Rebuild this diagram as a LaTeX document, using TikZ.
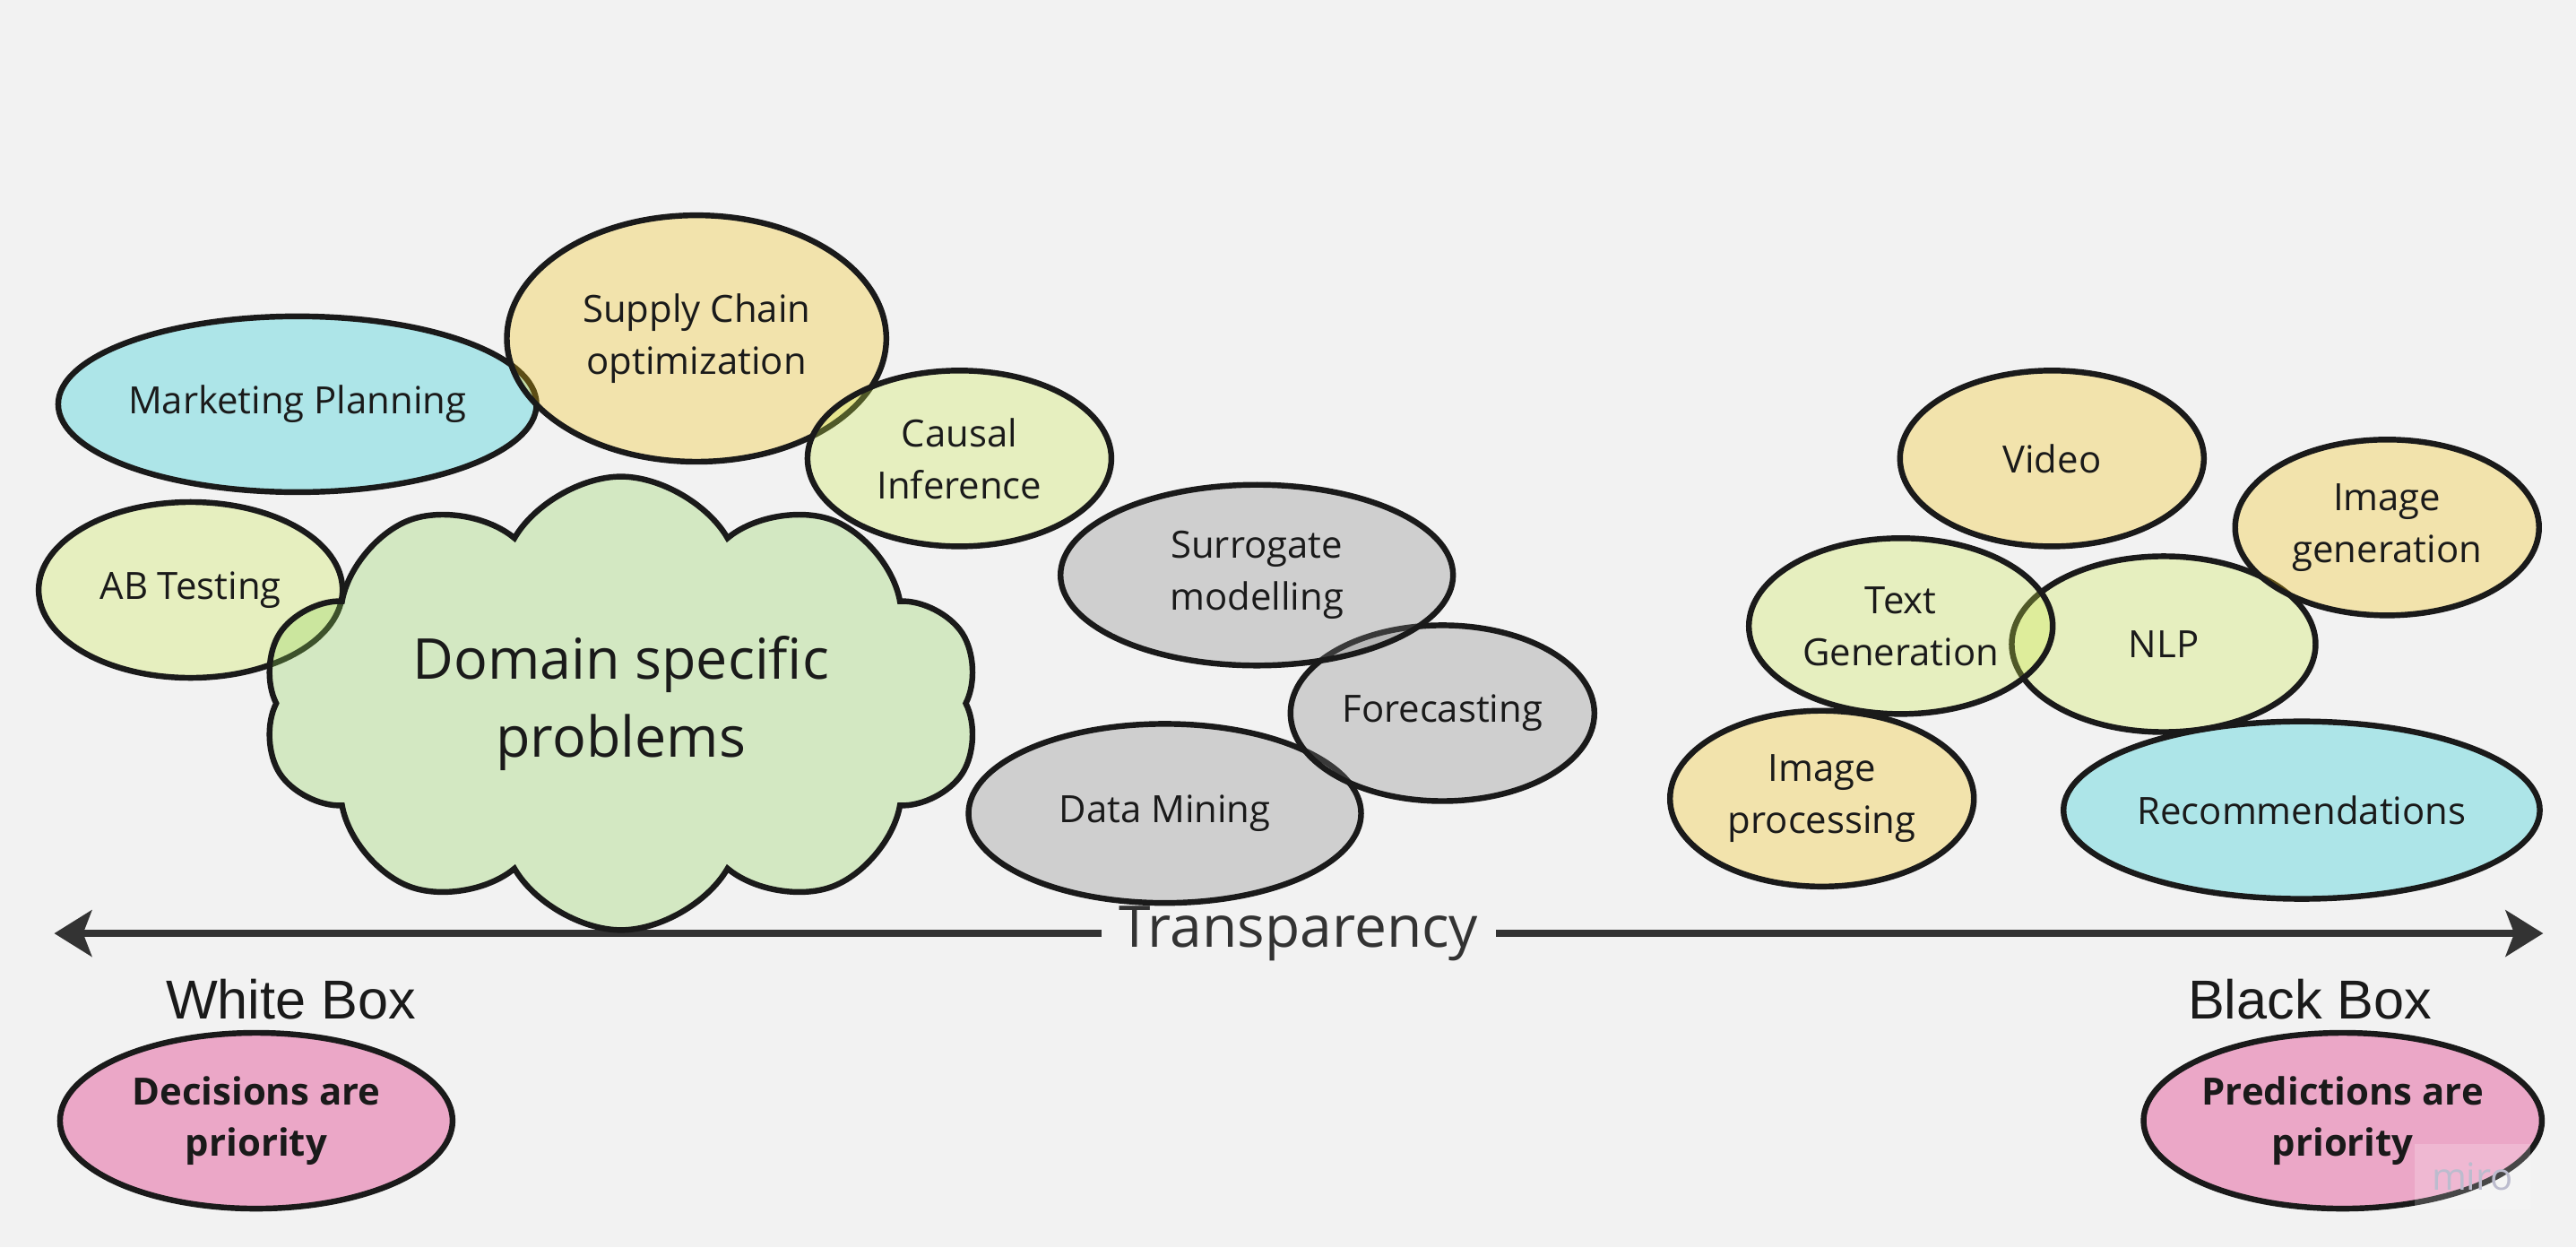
\documentclass[tikz,border=0pt]{standalone}
\usepackage{fontspec}
\setmainfont{Open Sans}
\newfontfamily\boxfont{Liberation Sans}
\usetikzlibrary{shapes.geometric}
\usetikzlibrary{shapes.symbols}
\usetikzlibrary{arrows.meta}

\definecolor{bg}{RGB}{242,242,242}
\definecolor{edge}{RGB}{26,26,26}
\definecolor{axis}{RGB}{51,51,51}
\definecolor{cyanf}{RGB}{15,202,212}
\definecolor{tanf}{RGB}{245,195,12}
\definecolor{limef}{RGB}{205,235,75}
\definecolor{cloudf}{RGB}{142,212,85}
\definecolor{greyf}{RGB}{129,129,129}
\definecolor{pinkf}{RGB}{235,167,199}
\definecolor{mirof}{RGB}{188,188,206}

\begin{document}
\begin{tikzpicture}[
    x=0.02cm, y=-0.02cm,
    every node/.style={
      text=edge,
      align=center,
      font=\fontsize{13}{18}\selectfont
    },
    blob/.style={
      ellipse,
      draw=edge,
      line width=2pt,
      fill opacity=0.3,
      text opacity=1,
      inner sep=0pt
    },
    small/.style={blob, minimum width=3.7cm, minimum height=2.14cm},
    wide/.style={blob, minimum width=4.78cm, minimum height=2.18cm},
    prio/.style={
      ellipse,
      draw=edge,
      line width=2pt,
      fill=pinkf,
      inner sep=0pt,
      minimum width=4.78cm,
      minimum height=2.14cm,
      font=\bfseries\fontsize{13}{17.5}\selectfont
    },
    boxlabel/.style={font=\boxfont\fontsize{19}{23}\selectfont}
    ]
    \useasboundingbox (0,0) rectangle (1568,759);
    \fill[bg] (0,0) rectangle (1568,759);

    \coordinate (la) at (33,568);
    \coordinate (ra) at (1548,568);
    \draw[line width=2.3pt, draw=axis,
      {Stealth[length=13pt,width=16pt,inset=3pt]}-{Stealth[length=13pt,width=16pt,inset=3pt]}]
    (la) -- (ra)
    node[midway, fill=bg, inner xsep=6pt, inner ysep=0pt, text=axis,
      font=\fontsize{19.9}{24}\selectfont] (tr) {Transparency};

    \node[blob, fill=cyanf, minimum width=5.78cm, minimum height=2.14cm] (mp) at (181,246) {Marketing Planning};
    \node[blob, fill=tanf, minimum width=4.62cm, minimum height=3.0cm] (sc) at (424,206) {Supply Chain\\optimization};
    \node[small, fill=limef] (ci) at (584,279) {Causal\\Inference};
    \node[small, fill=limef] (ab) at (116,359) {AB Testing};
    \node[cloud, cloud puffs=10, cloud puff arc=120, cloud ignores aspect,
      draw=edge, line width=2pt, fill=cloudf, fill opacity=0.3, text opacity=1,
      minimum width=8.74cm, minimum height=5.52cm,
      font=\fontsize{19.5}{27}\selectfont] (dsp) at (378,428) {Domain specific\\problems};

    \node[wide, fill=greyf] (dm) at (709,495) {Data Mining};
    \node[small, fill=greyf] (fc) at (878,434) {Forecasting};
    \node[wide, fill=greyf, minimum height=2.2cm] (sm) at (765,350) {Surrogate\\modelling};

    \node[small, fill=tanf] (ip) at (1109,486) {Image\\processing};
    \node[small, fill=limef] (nlp) at (1317,392) {NLP};
    \node[small, fill=limef] (tg) at (1157,381) {Text\\Generation};
    \node[small, fill=tanf] (ig) at (1453,321) {Image\\generation};
    \node[small, fill=tanf] (vid) at (1249,279) {Video};
    \node[blob, fill=cyanf, minimum width=5.8cm, minimum height=2.16cm] (rec) at (1401,493) {Recommendations};

    \node[boxlabel] (wb) at (177,608) {White Box};
    \node[boxlabel] (bb) at (1406,608) {Black Box};
    \node[prio] (dec) at (156,682) {Decisions are\\priority};
    \node[prio] (pred) at (1426,682) {Predictions are\\priority};

    \node[fill=white, fill opacity=0.2, text opacity=1, text=mirof,
      minimum width=1.4cm, minimum height=0.8cm] (wm) at (1505,716) {miro};
  \end{tikzpicture}
\end{document}
